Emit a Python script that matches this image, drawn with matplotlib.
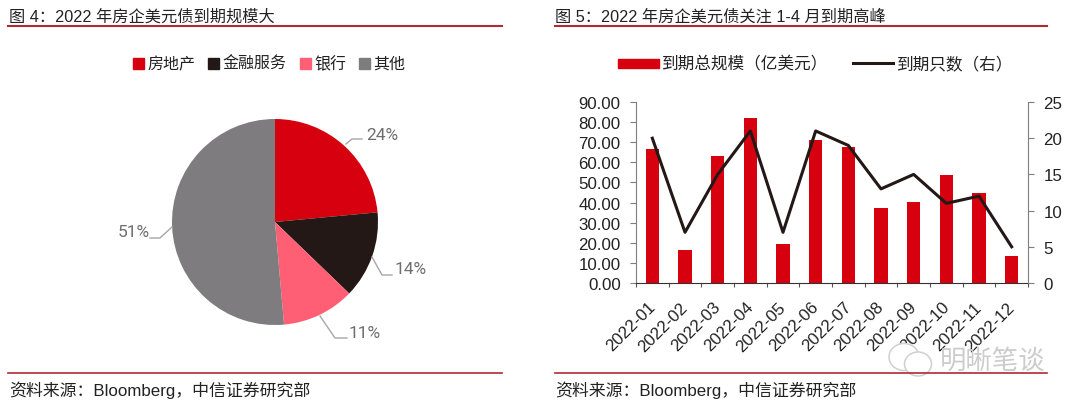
import matplotlib
matplotlib.use('Agg')
import matplotlib.pyplot as plt
from matplotlib.patches import Ellipse

plt.rcParams['font.family'] = ['Liberation Sans', 'Noto Sans CJK SC']

W, H = 1080, 410

# pie data
pieNames = ['房地产', '金融服务', '银行', '其他']
pieValues = [23.5, 13.7, 11.4, 51.4]
pieLabels = ['24%', '14%', '11%', '51%']
pieColors = ['#d7000f', '#231815', '#ff5f75', '#7f7c80']

# bar + line data
months = ['2022-01', '2022-02', '2022-03', '2022-04', '2022-05', '2022-06',
          '2022-07', '2022-08', '2022-09', '2022-10', '2022-11', '2022-12']
totalSize = [66.5, 16.5, 63, 82, 19.5, 71, 67.5, 37.5, 40.5, 53.5, 45, 13.5]
numBonds = [20, 7, 15, 21, 7, 21, 19, 13, 15, 11, 12, 5]


def pxBox(x0, y0, x1, y1):
    # pixel box (top-left origin) to figure fractions
    return [x0 / W, 1 - y1 / H, (x1 - x0) / W, (y1 - y0) / H]


def pxText(x, y, s, **kw):
    kw.setdefault('va', 'center')
    kw.setdefault('color', '#222222')
    return fig.text(x / W, 1 - y / H, s, **kw)


def pxLine(xs, ys, **kw):
    fig.add_artist(plt.Line2D([x / W for x in xs], [1 - y / H for y in ys], **kw))


fig = plt.figure(figsize=[W / 100, H / 100], dpi=100)

# headers and footers
pxText(9, 17, '图 4：2022 年房企美元债到期规模大', fontsize=11.7)
pxText(555, 17, '图 5：2022 年房企美元债关注 1-4 月到期高峰', fontsize=11.7)
pxText(9, 390, '资料来源：Bloomberg，中信证券研究部', fontsize=12.2)
pxText(555, 390, '资料来源：Bloomberg，中信证券研究部', fontsize=12.2)
for x0, x1 in [(8, 502), (555, 1047)]:
    pxLine([x0, x1], [27, 27], color='#b02a30', lw=1.5)
    pxLine([x0, x1], [374, 374], color='#b02a30', lw=1.2)

# pie chart
axPie = fig.add_axes(pxBox(172, 120, 378, 326))
axPie.pie(pieValues, colors=pieColors, startangle=90, counterclock=False,
          radius=1, wedgeprops={'linewidth': 0})
axPie.set_xlim(-1, 1)
axPie.set_ylim(-1, 1)

# pie leader lines and labels
leaderX = [[346, 352, 362], [372, 382, 392], [320, 335, 347], [172, 160, 150]]
leaderY = [[145, 140, 140], [258, 276, 276], [317, 339, 339], [228, 239, 239]]
labelX = [366, 395, 349, 118]
labelY = [135, 270, 334, 233]
for i in range(4):
    pxLine(leaderX[i], leaderY[i], color='#a6a6a6', lw=1)
    pxText(labelX[i], labelY[i], pieLabels[i], fontsize=12.5, color='#6e6e6e',
           ha='left', family='Roboto')

# pie legend
legX = [133, 208, 300, 359]
for i in range(4):
    fig.patches.append(plt.Rectangle((legX[i] / W, 1 - 69.5 / H), 11 / W, 11 / H,
                                     transform=fig.transFigure,
                                     color=pieColors[i], figure=fig))
    pxText(legX[i] + 14, 64.5, pieNames[i], fontsize=11.5)

# bars and line
ax = fig.add_axes(pxBox(636, 103, 1028, 284))
xPos = list(range(12))
ax.bar(xPos, totalSize, width=0.4, color='#d7000f', zorder=1)
ax.set_xlim(-0.5, 11.5)
ax.set_ylim(0, 90)
ax.set_yticks(range(0, 100, 10))
ax.set_yticklabels(['%.2f' % v for v in range(0, 100, 10)], fontsize=12.2,
                   color='#222222')
ax.set_xticks([v - 0.5 for v in range(13)])
ax.set_xticklabels([])
ax.tick_params(axis='y', direction='out', length=4, width=0.8, color='#7f7f7f', pad=7)
ax.tick_params(axis='x', direction='out', length=3, width=0.8, color='#555555')
ax.spines['top'].set_visible(False)
ax.spines['right'].set_visible(False)
ax.spines['left'].set_color('#7f7f7f')
ax.spines['bottom'].set_color('#333333')
for i, name in enumerate(months):
    ax.annotate(name, (i, 0), xytext=(-3.5, -11.5), textcoords='offset points',
                rotation=45, rotation_mode='anchor', ha='right', va='top',
                fontsize=12.2, color='#222222', annotation_clip=False)

ax2 = ax.twinx()
ax2.plot(xPos, numBonds, color='#231815', lw=2.2, zorder=3)
ax2.set_ylim(0, 25)
ax2.set_yticks(range(0, 30, 5))
ax2.tick_params(axis='y', direction='out', length=4, width=0.8, color='#7f7f7f', pad=7,
                labelsize=12.2, labelcolor='#222222')
ax2.spines['top'].set_visible(False)
ax2.spines['left'].set_visible(False)
ax2.spines['bottom'].set_visible(False)
ax2.spines['right'].set_color('#7f7f7f')

# bar + line legend
fig.patches.append(plt.Rectangle((618 / W, 1 - 69 / H), 41 / W, 9 / H,
                                 transform=fig.transFigure, color='#d7000f', figure=fig))
pxText(662, 64.5, '到期总规模（亿美元）', fontsize=12)
pxLine([853, 893], [64, 64], color='#231815', lw=2.2)
pxText(897, 64.5, '到期只数（右）', fontsize=12)

# watermark
for cx, cy, ew, eh in [(904, 358, 30, 27), (918, 365, 27, 24)]:
    fig.add_artist(Ellipse((cx / W, 1 - cy / H), ew / W, eh / H, facecolor='white',
                           edgecolor='#d0d0d0', lw=1.1, transform=fig.transFigure))
pxText(993, 361, '明晰笔谈', fontsize=19, color='#cccccc', ha='center')

fig.savefig('out.png', dpi=100)
